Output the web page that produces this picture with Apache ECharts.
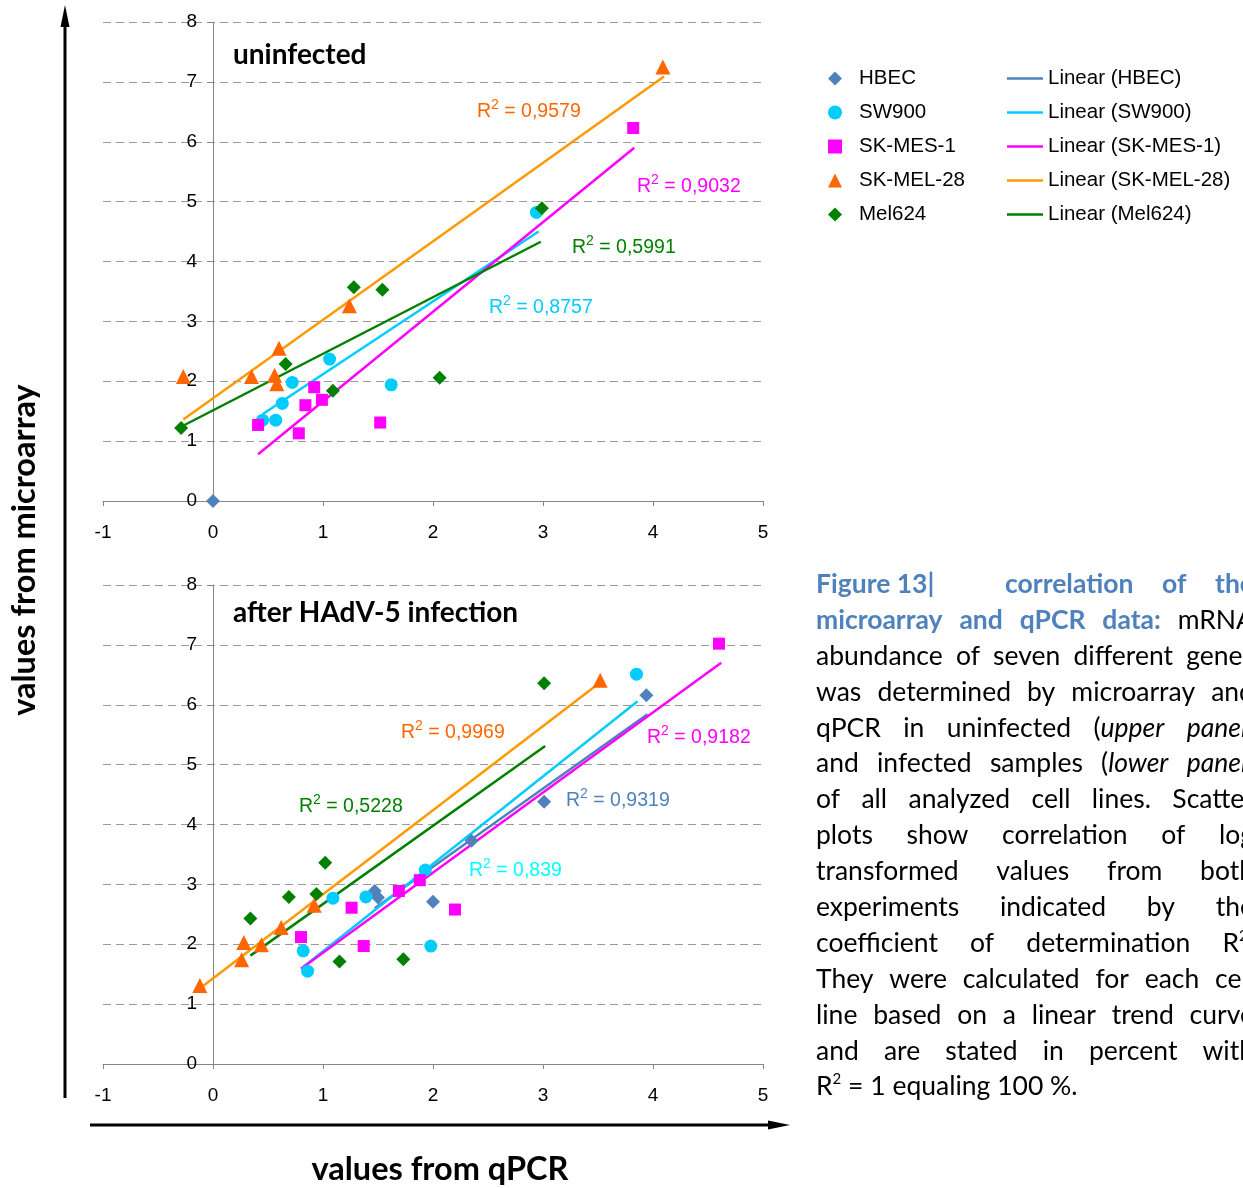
<!DOCTYPE html>
<html><head><meta charset="utf-8">
<script src="https://cdn.jsdelivr.net/npm/echarts@6/dist/echarts.min.js"></script>
<style>
html,body{margin:0;padding:0;background:#fff;overflow:hidden;width:1243px;height:1188px;}
#chart{position:absolute;left:0;top:0;width:1243px;height:1188px;}
#cap{position:absolute;left:816px;top:566px;width:438px;font-family:Lato,'Open Sans',sans-serif;font-size:26.5px;line-height:35.9px;color:#000;}
.ln{display:flex;justify-content:space-between;white-space:nowrap;height:35.9px;}
.ln span{white-space:nowrap;}
.b{color:#4F81BD;font-weight:bold;}
sup{font-size:15px;line-height:0;vertical-align:11px;}
</style></head>
<body>
<div id="chart"></div>
<div id="cap">
 <div class="ln" style="justify-content:flex-start"><span class="b" style="width:189px">Figure 13|</span><span style="display:flex;justify-content:space-between;width:249px"><span class="b">correlation</span><span class="b">of</span><span class="b">the</span></span></div>
 <div class="ln"><span class="b">microarray</span><span class="b">and</span><span class="b">qPCR</span><span class="b">data:</span><span>mRNA</span></div>
 <div class="ln"><span>abundance</span><span>of</span><span>seven</span><span>different</span><span>genes</span></div>
 <div class="ln"><span>was</span><span>determined</span><span>by</span><span>microarray</span><span>and</span></div>
 <div class="ln"><span>qPCR</span><span>in</span><span>uninfected</span><span>(<i>upper</i></span><span><i>panel</i>)</span></div>
 <div class="ln"><span>and</span><span>infected</span><span>samples</span><span>(<i>lower</i></span><span><i>panel</i>)</span></div>
 <div class="ln"><span>of</span><span>all</span><span>analyzed</span><span>cell</span><span>lines.</span><span>Scatter</span></div>
 <div class="ln"><span>plots</span><span>show</span><span>correlation</span><span>of</span><span>log</span></div>
 <div class="ln"><span>transformed</span><span>values</span><span>from</span><span>both</span></div>
 <div class="ln"><span>experiments</span><span>indicated</span><span>by</span><span>the</span></div>
 <div class="ln"><span>coefficient</span><span>of</span><span>determination</span><span>R<sup>2</sup>.</span></div>
 <div class="ln"><span>They</span><span>were</span><span>calculated</span><span>for</span><span>each</span><span>cell</span></div>
 <div class="ln"><span>line</span><span>based</span><span>on</span><span>a</span><span>linear</span><span>trend</span><span>curve</span></div>
 <div class="ln"><span>and</span><span>are</span><span>stated</span><span>in</span><span>percent</span><span>with</span></div>
 <div class="ln" style="justify-content:flex-start"><span>R<sup>2</sup> = 1 equaling 100 %.</span></div>
</div>
<script>
// ---------- data: upper panel (uninfected) ----------
const upHBECX = [0];
const upHBECY = [0];
const upSW900X = [0.45, 0.57, 0.63, 0.72, 1.06, 1.62, 2.94];
const upSW900Y = [1.35, 1.35, 1.63, 1.98, 2.37, 1.94, 4.82];
const upSKMESX = [0.41, 0.78, 0.84, 0.92, 0.99, 1.52, 3.82];
const upSKMESY = [1.27, 1.13, 1.60, 1.90, 1.69, 1.31, 6.23];
const upSKMELX = [-0.27, 0.35, 0.56, 0.58, 0.60, 1.24, 4.09];
const upSKMELY = [2.08, 2.08, 2.10, 1.96, 2.55, 3.26, 7.25];
const upMel624X = [-0.29, 0.66, 1.09, 1.28, 1.54, 2.06, 2.99];
const upMel624Y = [1.22, 2.29, 1.84, 3.57, 3.53, 2.06, 4.89];
// trend line end points [x, y]
const upTrendSW900 = [[0.45, 1.45], [2.96, 4.50]];
const upTrendSKMES = [[0.41, 0.78], [3.83, 5.90]];
const upTrendSKMEL = [[-0.27, 1.36], [4.10, 7.09]];
const upTrendMel624 = [[-0.29, 1.24], [2.98, 4.33]];
const upR2 = {SW900: '0,8757', SKMES: '0,9032', SKMEL: '0,9579', Mel624: '0,5991'};

// ---------- data: lower panel (after HAdV-5 infection) ----------
const loHBECX = [1.47, 1.50, 2.00, 2.35, 3.01, 3.94];
const loHBECY = [2.89, 2.78, 2.71, 3.73, 4.38, 6.16];
const loSW900X = [0.82, 0.86, 1.09, 1.39, 1.93, 1.98, 3.85];
const loSW900Y = [1.89, 1.55, 2.77, 2.79, 3.24, 1.97, 6.51];
const loSKMESX = [0.80, 1.26, 1.37, 1.69, 1.88, 2.20, 4.60];
const loSKMESY = [2.12, 2.61, 1.97, 2.89, 3.07, 2.58, 7.02];
const loSKMELX = [-0.12, 0.26, 0.28, 0.44, 0.62, 0.92, 3.52];
const loSKMELY = [1.31, 1.74, 2.03, 1.99, 2.28, 2.65, 6.41];
const loMel624X = [0.34, 0.69, 0.94, 1.02, 1.15, 1.73, 3.01];
const loMel624Y = [2.43, 2.79, 2.84, 3.36, 1.71, 1.75, 6.36];
const loTrendHBEC = [[1.47, 2.60], [3.95, 5.84]];
const loTrendSW900 = [[0.82, 1.62], [3.86, 6.06]];
const loTrendSKMES = [[0.80, 1.59], [4.62, 6.70]];
const loTrendSKMEL = [[-0.12, 1.26], [3.51, 6.36]];
const loTrendMel624 = [[0.34, 1.81], [3.02, 5.31]];
const loR2 = {HBEC: '0,9319', SW900: '0,839', SKMES: '0,9182', SKMEL: '0,9969', Mel624: '0,5228'};

const seriesNames = ['HBEC', 'SW900', 'SK-MES-1', 'SK-MEL-28', 'Mel624'];
const xTicks = [-1, 0, 1, 2, 3, 4, 5];
const yTicks = [0, 1, 2, 3, 4, 5, 6, 7, 8];
const panelTitles = ['uninfected', 'after HAdV-5 infection'];
const xTitle = 'values from qPCR';
const yTitle = 'values from microarray';

// ---------- styles ----------
const C = {
  HBEC: '#4F81BD', SW900: '#00CCFF', SKMES: '#FF00FF', SKMEL: '#FF6600', SKMELline: '#FF9900', Mel624: '#008000'
};
const SANS = "'Liberation Sans', Arial, sans-serif";
const CAL = "Lato, 'Open Sans', sans-serif";

function pts(xs, ys) { return xs.map((x, i) => [x, ys[i]]); }
function sc(name, xs, ys, gi, symbol, size, color) {
  return {type: 'scatter', name, xAxisIndex: gi, yAxisIndex: gi, data: pts(xs, ys), symbol, symbolSize: size,
    itemStyle: {color, opacity: 1}, z: 4, silent: true};
}
function tr(name, d, gi, color) {
  return {type: 'line', name: 'Linear (' + name + ')', xAxisIndex: gi, yAxisIndex: gi, data: d,
    symbol: 'none', showSymbol: false, lineStyle: {color, width: 2.5}, itemStyle: {color}, z: 3, silent: true};
}
function xAx(gi) {
  return {type: 'value', gridIndex: gi, min: xTicks[0], max: xTicks[xTicks.length - 1], interval: 1,
    axisLine: {show: true, onZero: false, lineStyle: {color: '#868686', width: 1}},
    axisTick: {show: true, length: 5, lineStyle: {color: '#868686'}},
    axisLabel: {fontSize: 19, color: '#000', fontFamily: SANS, margin: 22},
    splitLine: {show: false}};
}
function yAx(gi) {
  // y axis crosses the x axis at x = 0 (110 px right of the grid's left edge)
  return {type: 'value', gridIndex: gi, min: yTicks[0], max: yTicks[yTicks.length - 1], interval: 1,
    position: 'left', offset: -110,
    axisLine: {show: true, onZero: false, lineStyle: {color: '#868686', width: 1}},
    axisTick: {show: true, length: 6, lineStyle: {color: '#868686'}},
    axisLabel: {fontSize: 19, color: '#000', fontFamily: SANS, margin: 16},
    splitLine: {show: true, lineStyle: {color: '#9a9a9a', width: 1, type: [8, 5]}}};
}
function r2(x, y, val, color) {
  return {type: 'text', x, y, z: 10, style: {
    text: '{r|R}{s|2}{r| = ' + val + '}', fill: color, verticalAlign: 'middle',
    rich: {
      r: {fontSize: 19.5, fontFamily: SANS, fill: color, lineHeight: 24, verticalAlign: 'bottom'},
      s: {fontSize: 14, fontFamily: SANS, fill: color, lineHeight: 24, verticalAlign: 'top'}
    }}};
}

const series = [
  sc('HBEC', upHBECX, upHBECY, 0, 'diamond', 14, C.HBEC),
  sc('SW900', upSW900X, upSW900Y, 0, 'circle', 13, C.SW900),
  sc('SK-MES-1', upSKMESX, upSKMESY, 0, 'rect', 12, C.SKMES),
  sc('SK-MEL-28', upSKMELX, upSKMELY, 0, 'triangle', 15, C.SKMEL),
  sc('Mel624', upMel624X, upMel624Y, 0, 'diamond', 14, C.Mel624),
  tr('SW900', upTrendSW900, 0, C.SW900),
  tr('SK-MES-1', upTrendSKMES, 0, C.SKMES),
  tr('SK-MEL-28', upTrendSKMEL, 0, C.SKMELline),
  tr('Mel624', upTrendMel624, 0, C.Mel624),
  sc('HBEC', loHBECX, loHBECY, 1, 'diamond', 14, C.HBEC),
  sc('SW900', loSW900X, loSW900Y, 1, 'circle', 13, C.SW900),
  sc('SK-MES-1', loSKMESX, loSKMESY, 1, 'rect', 12, C.SKMES),
  sc('SK-MEL-28', loSKMELX, loSKMELY, 1, 'triangle', 15, C.SKMEL),
  sc('Mel624', loMel624X, loMel624Y, 1, 'diamond', 14, C.Mel624),
  tr('HBEC', loTrendHBEC, 1, C.HBEC),
  tr('SW900', loTrendSW900, 1, C.SW900),
  tr('SK-MES-1', loTrendSKMES, 1, C.SKMES),
  tr('SK-MEL-28', loTrendSKMEL, 1, C.SKMELline),
  tr('Mel624', loTrendMel624, 1, C.Mel624)
];

const legendText = {fontSize: 20.5, color: '#000', fontFamily: SANS, rich: {g: {width: 12}}};
const option = {
  animation: false,
  backgroundColor: '#fff',
  grid: [
    {left: 103, top: 22, width: 660, height: 479},
    {left: 103, top: 585, width: 660, height: 479}
  ],
  xAxis: [xAx(0), xAx(1)],
  yAxis: [yAx(0), yAx(1)],
  legend: [
    {data: seriesNames, orient: 'vertical', left: 828, top: 68, padding: 0, itemWidth: 14, itemHeight: 14, itemGap: 13,
      formatter: n => '{g|}' + n,
      textStyle: legendText, selectedMode: false},
    {data: seriesNames.map(n => 'Linear (' + n + ')'), orient: 'vertical', left: 1007, top: 68, padding: 0, itemWidth: 36,
      itemHeight: 2.5, itemGap: 13, icon: 'rect', textStyle: {fontSize: 20.5, color: '#000', fontFamily: SANS}, selectedMode: false}
  ],
  series,
  graphic: [
    // axis arrows
    {type: 'line', shape: {x1: 65, y1: 1098, x2: 65, y2: 24}, style: {stroke: '#000', lineWidth: 3}},
    {type: 'polygon', shape: {points: [[65, 5], [60.5, 27], [69.5, 27]]}, style: {fill: '#000'}},
    {type: 'line', shape: {x1: 90, y1: 1125, x2: 770, y2: 1125}, style: {stroke: '#000', lineWidth: 3}},
    {type: 'polygon', shape: {points: [[790, 1125], [768, 1120.5], [768, 1129.5]]}, style: {fill: '#000'}},
    // axis titles
    {type: 'text', x: 440, y: 1170, style: {text: xTitle, font: 'bold 32.5px ' + CAL, fill: '#000', align: 'center', verticalAlign: 'middle'}},
    {type: 'text', x: 25, y: 550, rotation: Math.PI / 2, style: {text: yTitle, font: 'bold 32.5px ' + CAL, fill: '#000', align: 'center', verticalAlign: 'middle'}},
    // panel titles
    {type: 'text', x: 233, y: 55, style: {text: panelTitles[0], font: 'bold 28px ' + CAL, fill: '#000', verticalAlign: 'middle'}},
    {type: 'text', x: 233, y: 613, style: {text: panelTitles[1], font: 'bold 28px ' + CAL, fill: '#000', verticalAlign: 'middle'}},
    // R² labels upper
    r2(477, 110, upR2.SKMEL, '#FF6600'),
    r2(637, 185, upR2.SKMES, '#FF00FF'),
    r2(572, 246, upR2.Mel624, '#008000'),
    r2(489, 306, upR2.SW900, '#00CCFF'),
    // R² labels lower
    r2(401, 731, loR2.SKMEL, '#FF6600'),
    r2(647, 736, loR2.SKMES, '#FF00FF'),
    r2(299, 805, loR2.Mel624, '#008000'),
    r2(566, 799, loR2.HBEC, '#4F81BD'),
    r2(469, 869, loR2.SW900, '#00FFFF')
  ]
};
const chart = echarts.init(document.getElementById('chart'), null, {renderer: 'canvas'});
chart.setOption(option);
</script>
</body></html>
